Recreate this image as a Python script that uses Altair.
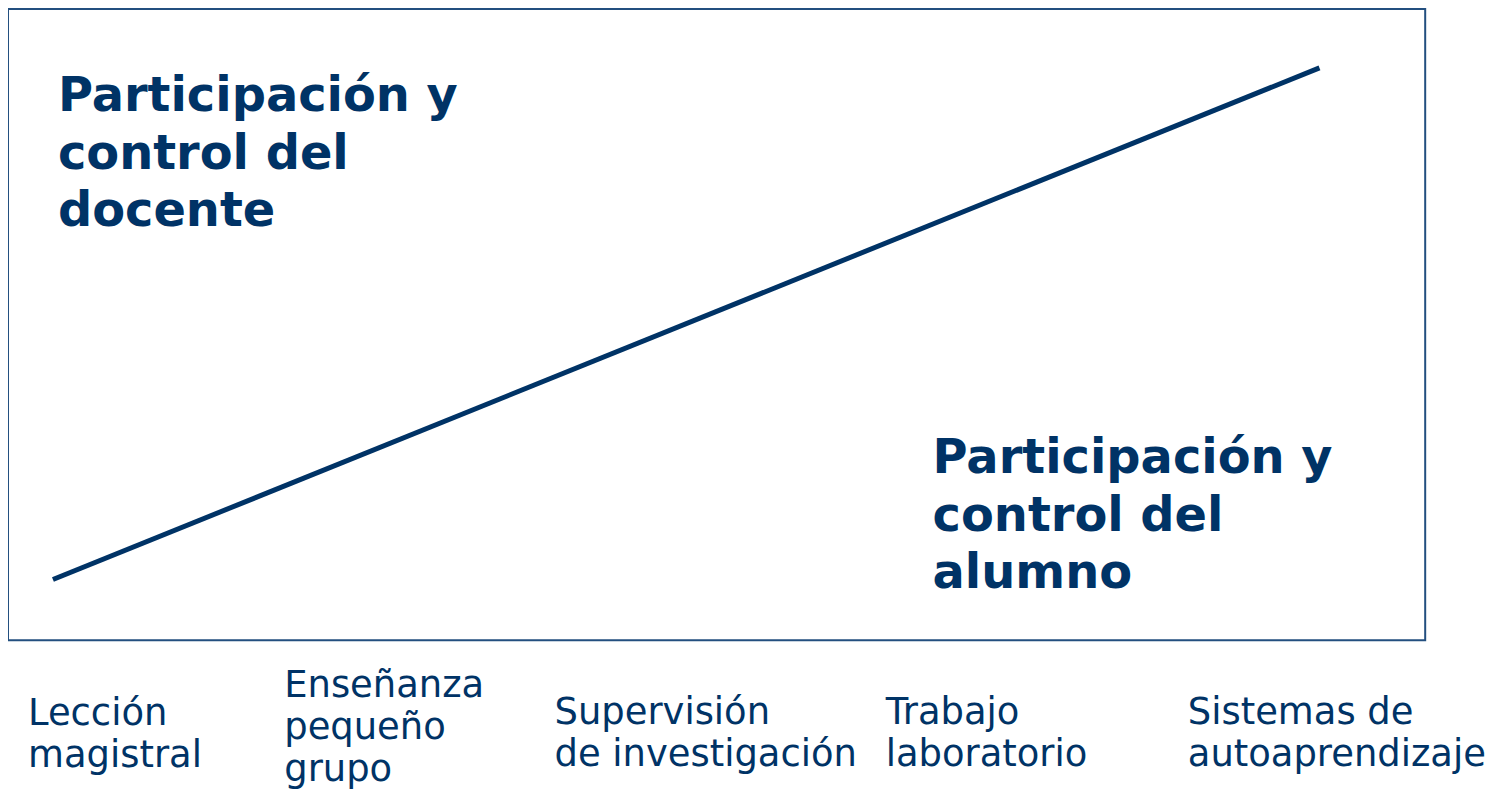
import altair as alt
import pandas as pd

# Continuum line (teacher control -> student control)
line_x = [3.17, 92.54]
line_y = [9.64, 90.68]

# Bold annotations inside the box
title_text = ["Participación y\ncontrol del\ndocente", "Participación y\ncontrol del\nalumno"]
title_x = [3.52, 65.24]
title_y = [83.9, 26.54]

# Category labels below the box
categories = [
    "Lección\nmagistral",
    "Enseñanza\npequeño\ngrupo",
    "Supervisión\nde investigación",
    "Trabajo\nlaboratorio",
    "Sistemas de\nautoaprendizaje",
]
cat_x = [1.41, 19.49, 38.56, 61.93, 83.25]
cat_y = [-13.43, -9.0, -13.27, -13.27, -13.27]

NAVY = "#003366"
W, H = 1421, 633

xs = alt.Scale(domain=[0, 100], nice=False, zero=False)
ys = alt.Scale(domain=[0, 100], nice=False, zero=False)

line_df = pd.DataFrame({"x": line_x, "y": line_y})
title_df = pd.DataFrame({"t": title_text, "x": title_x, "y": title_y})
cat_df = pd.DataFrame({"t": categories, "x": cat_x, "y": cat_y})

line = alt.Chart(line_df).mark_line(color=NAVY, strokeWidth=5, strokeCap="butt").encode(
    x=alt.X("x:Q", scale=xs, axis=None),
    y=alt.Y("y:Q", scale=ys, axis=None),
)

titles = alt.Chart(title_df).mark_text(
    align="left", baseline="alphabetic", font="DejaVu Sans", fontWeight="bold",
    fontSize=48, lineHeight=58, lineBreak="\n", color=NAVY,
).encode(
    x=alt.X("x:Q", scale=xs, axis=None),
    y=alt.Y("y:Q", scale=ys, axis=None),
    text="t:N",
)

labels = alt.Chart(cat_df).mark_text(
    align="left", baseline="alphabetic", font="DejaVu Sans",
    fontSize=37, lineHeight=42, lineBreak="\n", color=NAVY,
).encode(
    x=alt.X("x:Q", scale=xs, axis=None),
    y=alt.Y("y:Q", scale=ys, axis=None),
    text="t:N",
)

chart = alt.layer(line, titles, labels).properties(
    width=W, height=H,
    autosize=alt.AutoSizeParams(type="none"),
    padding={"left": 0, "top": 0, "right": 72, "bottom": 149},
    background="white",
).configure_view(stroke="#234f7f", strokeWidth=2)

chart.save("out.html", embed_options={"renderer": "svg", "actions": False})
